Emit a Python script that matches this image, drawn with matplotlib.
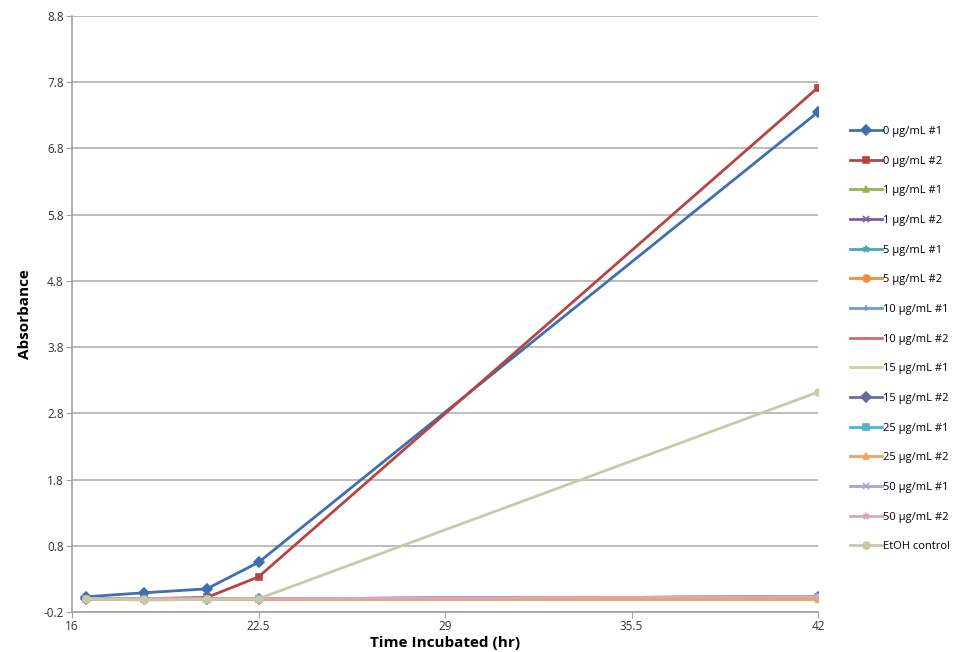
import numpy as np
import matplotlib
matplotlib.use("Agg")
import matplotlib.pyplot as plt

plt.rcParams['font.family'] = ['Open Sans', 'DejaVu Sans']

time_hr = [16.5, 18.5, 20.7, 22.5, 42]

series_names = [
    "0 µg/mL #1", "0 µg/mL #2", "1 µg/mL #1", "1 µg/mL #2",
    "5 µg/mL #1", "5 µg/mL #2", "10 µg/mL #1", "10 µg/mL #2",
    "15 µg/mL #1", "15 µg/mL #2", "25 µg/mL #1", "25 µg/mL #2",
    "50 µg/mL #1", "50 µg/mL #2", "EtOH control",
]

absorbance = [
    [0.03, 0.09, 0.15, 0.55, 7.35],
    [0.0, 0.0, 0.02, 0.33, 7.72],
    [0.0, 0.0, 0.0, 0.0, 0.03],
    [0.0, 0.0, 0.0, 0.0, 0.03],
    [0.0, 0.0, 0.0, 0.0, 0.02],
    [0.0, 0.0, 0.0, 0.0, 0.01],
    [0.0, 0.0, 0.0, 0.0, 0.03],
    [0.0, 0.0, 0.0, 0.0, 0.02],
    [0.0, 0.0, 0.0, 0.0, 0.0],
    [0.0, 0.0, 0.0, 0.0, 0.03],
    [0.0, 0.0, 0.0, 0.0, 0.02],
    [0.0, 0.0, 0.0, 0.0, 0.0],
    [0.0, 0.0, 0.0, 0.0, 0.03],
    [0.0, 0.0, 0.0, 0.0, 0.03],
    [0.0, -0.02, -0.01, 0.0, 3.12],
]

colors = [
    "#3f6fae", "#b84441", "#93b54f", "#7a5e9d", "#44a7c0", "#ef8e3f",
    "#6f9bd0", "#d46a67", "#c8d68f", "#6c6a9c", "#4fb6cf", "#f5a35a",
    "#a9a4dd", "#dba6b6", "#c9c9a8",
]
markers = ["D", "s", "^", "x", "*", "o", "+", "_", "", "D", "s", "^", "x", "*", "o"]

fig = plt.figure(figsize=(9.64, 6.52), dpi=100)
ax = fig.add_axes([72 / 964, 40 / 652, 746 / 964, 596 / 652])

for name, vals, c, m in zip(series_names, absorbance, colors, markers):
    ax.plot(time_hr, vals, color=c, marker=m, markersize=5, linewidth=2,
            markeredgewidth=1.2, label=name)

ax.set_xlim(16, 42)
ax.set_ylim(-0.2, 8.8)
ax.set_xticks([16, 22.5, 29, 35.5, 42])
ax.set_xticklabels(["16", "22.5", "29", "35.5", "42"])
yt = np.arange(-0.2, 8.81, 1.0)
ax.set_yticks(yt)
ax.set_yticklabels([f"{v:.1f}" for v in yt])
ax.yaxis.grid(True, color="#b0b0b0", linewidth=1.2)
ax.set_axisbelow(True)
for s in ["top", "right"]:
    ax.spines[s].set_visible(False)
for s in ["left", "bottom"]:
    ax.spines[s].set_color("#a0a0a0")
    ax.spines[s].set_linewidth(1.2)
ax.tick_params(colors="#a0a0a0", labelcolor="#333333", labelsize=8.5, length=4, pad=2)

ax.set_xlabel("Time Incubated (hr)", fontsize=11, fontweight="bold", labelpad=2)
ax.set_ylabel("Absorbance", fontsize=11, fontweight="bold", labelpad=8)

ax.legend(loc="upper left", bbox_to_anchor=(850 / 964, 1 - 126 / 652), bbox_transform=fig.transFigure,
          frameon=False, fontsize=8, labelspacing=1.68, handlelength=2.9, handletextpad=0.1,
          borderaxespad=0, borderpad=0)

fig.savefig("out.png", dpi=100)
